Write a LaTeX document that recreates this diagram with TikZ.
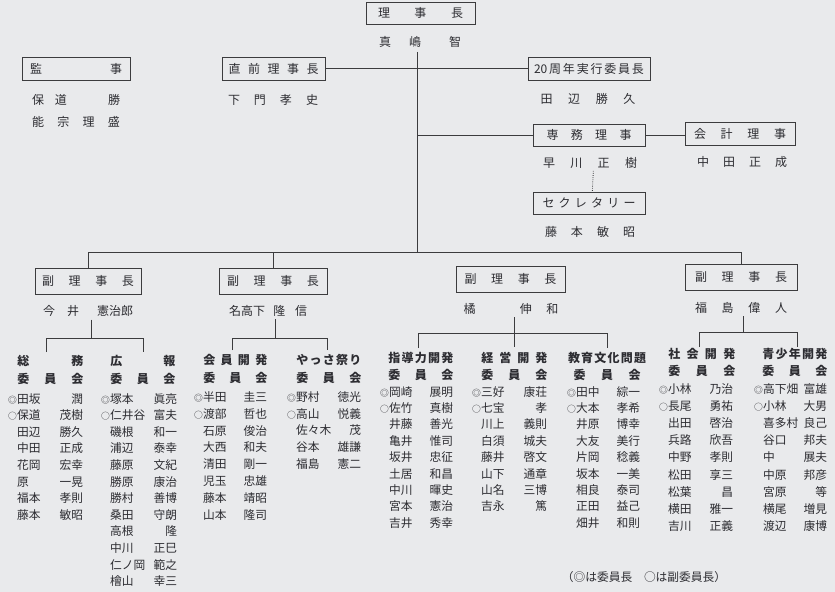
\documentclass[tikz,border=0pt]{standalone}
\usepackage{fontspec}
\newfontfamily\jp{Noto Sans CJK JP}
\newlength\nmw
\newcommand\ms[3]{\makebox[0.8em][c]{\fontsize{6.6}{6.6}\selectfont #1}\makebox[\nmw]{#2\hfill#3}}
\definecolor{bgc}{RGB}{233,234,236}
\definecolor{ink}{RGB}{45,45,50}
\definecolor{lnc}{RGB}{60,60,62}
\tikzset{
  bx/.style={draw=lnc, line width=0.7pt, inner sep=0pt, text=ink, font=\jp\fontsize{9}{10}\selectfont},
  nm/.style={inner sep=0pt, text=ink, font=\jp\fontsize{9}{10}\selectfont},
  mem/.style={anchor=north west, inner sep=0pt, align=left, text=ink},
  hd/.style={anchor=north west, inner sep=0pt, align=left, text=ink},
  nw/.code={\global\nmw=#1},
  ln/.style={draw=lnc, line width=0.6pt}
}
\begin{document}
\begin{tikzpicture}[x=0.75pt,y=-0.75pt]
\fill[bgc] (0,0) rectangle (835,592);
\useasboundingbox (0,0) rectangle (835,592);

% top boxes
\node[bx, minimum width=81.75pt, minimum height=16.5pt] (b0) at (420.5,13) {\makebox[63.75pt]{理\hfill 事\hfill 長}};
\node[nm] (n0) at (420,42) {\makebox[61.5pt]{真\hspace{1.5em}嶋\hfill 智}};

\node[bx, minimum width=81pt, minimum height=17.25pt] (bkan) at (76,68.5) {\makebox[69pt]{監\hfill 事}};
\node[nm] (nkan1) at (76,100) {\makebox[66pt]{保\hspace{0.9em}道\hfill 勝}};
\node[nm] (nkan2) at (76,122) {\makebox[66pt]{能\hfill 宗\hfill 理\hfill 盛}};

\node[bx, minimum width=77.25pt, minimum height=17.25pt] (bzen) at (273.5,68.5) {\makebox[67.5pt]{直\hfill 前\hfill 理\hfill 事\hfill 長}};
\node[nm] (nzen) at (273,100) {\makebox[67.5pt]{下\hfill 門\hfill 孝\hfill 史}};

\node[bx, minimum width=91.5pt, minimum height=17.25pt] (bann) at (589,68.5) {\makebox[82.5pt]{20\hfill 周\hfill 年\hfill 実\hfill 行\hfill 委\hfill 員\hfill 長}};
\node[nm] (nann) at (588,99) {\makebox[71pt]{田\hfill 辺\hfill 勝\hfill 久}};

\node[bx, minimum width=84pt, minimum height=16.5pt] (bsen) at (589,135) {\makebox[63.75pt]{専\hfill 務\hfill 理\hfill 事}};
\node[nm] (nsen) at (590,163) {\makebox[70.5pt]{早\hfill 川\hfill 正\hfill 樹}};

\node[bx, minimum width=82.5pt, minimum height=17.25pt] (bkai) at (740,134) {\makebox[69pt]{会\hfill 計\hfill 理\hfill 事}};
\node[nm] (nkai) at (742,162) {\makebox[67.5pt]{中\hfill 田\hfill 正\hfill 成}};

\node[bx, minimum width=84pt, minimum height=16.5pt] (bsec) at (589,203) {\makebox[69.75pt]{セ\hfill ク\hfill レ\hfill タ\hfill リ\hfill ー}};
\node[nm] (nsec) at (590,232) {\makebox[67.5pt]{藤\hfill 本\hfill 敏\hfill 昭}};

% vice chair boxes
\node[bx, minimum width=79.5pt, minimum height=19.5pt] (bv1) at (88,281) {\makebox[69pt]{副\hfill 理\hfill 事\hfill 長}};
\node[bx, minimum width=81pt, minimum height=19.5pt] (bv2) at (273,281) {\makebox[69pt]{副\hfill 理\hfill 事\hfill 長}};
\node[bx, minimum width=81.75pt, minimum height=19.5pt] (bv3) at (510.5,279) {\makebox[69pt]{副\hfill 理\hfill 事\hfill 長}};
\node[bx, minimum width=84pt, minimum height=19.5pt] (bv4) at (741,277) {\makebox[69pt]{副\hfill 理\hfill 事\hfill 長}};

\node[nm] (nv1) at (88,311) {\makebox[67.5pt]{今\hspace{1em}井\hfill 憲治郎}};
\node[nm] (nv2) at (268,311) {\makebox[58.5pt]{名高下\hfill 隆\hspace{0.8em}信}};
\node[nm] (nv3) at (511,309) {\makebox[71pt]{橘\hfill 伸\hspace{1.2em}和}};
\node[nm] (nv4) at (741,308) {\makebox[69pt]{福\hfill 島\hfill 偉\hfill 人}};

% connectors top
\coordinate (top) at (417,52);
\coordinate (hub) at (417,252);
\coordinate (j1) at (417,135);
\draw[ln] (top) -- (hub);
\draw[ln] (bzen.east) -- (bann.west);
\draw[ln] (j1) -- (j1 -| bsen.west);
\draw[ln] (bsen.east) -- (bsen.east -| bkai.west);
\draw[lnc, line width=0.6pt, densely dotted] ([xshift=2.5pt,yshift=-1.5pt]nsen.south) -- ([xshift=2.5pt]bsec.north);
\draw[ln] (bv1.north) -- (bv1.north |- hub) -- (bv4.north |- hub) -- (bv4.north);
\draw[ln] (bv2.north) -- (bv2.north |- hub);

% brackets
\coordinate (g1m) at (91,338); \coordinate (g1a) at (46,352); \coordinate (g1b) at (143,352);
\draw[ln] ([yshift=-2pt]nv1.south -| g1m) -- (g1m);
\draw[ln] (g1a) -- (g1a |- g1m) -- (g1b |- g1m) -- (g1b);
\coordinate (g2m) at (275,338); \coordinate (g2a) at (232,350); \coordinate (g2b) at (327,350);
\draw[ln] ([yshift=-2pt]nv2.south -| g2m) -- (g2m);
\draw[ln] (g2a) -- (g2a |- g2m) -- (g2b |- g2m) -- (g2b);
\coordinate (g3m) at (514,333); \coordinate (g3a) at (418,348); \coordinate (g3b) at (607,348); \coordinate (g3c) at (514,347);
\draw[ln] ([yshift=-2pt]nv3.south -| g3c) -- (g3c);
\draw[ln] (g3a) -- (g3a |- g3m) -- (g3b |- g3m) -- (g3b);
\coordinate (g4m) at (743,332); \coordinate (g4a) at (699,347); \coordinate (g4b) at (797,347);
\draw[ln] ([yshift=-2pt]nv4.south -| g4m) -- (g4m);
\draw[ln] (g4a) -- (g4a |- g4m) -- (g4b |- g4m) -- (g4b);

% committee headers
\tikzset{hfont/.style={font=\jp\bfseries\fontsize{9}{13.5}\selectfont}}
\node[hd, hfont] (h1) at (17,355) {\makebox[49.5pt]{総\hfill 務}\\\makebox[49.5pt]{委\hfill 員\hfill 会}};
\node[hd, hfont] (h2) at (110,355) {\makebox[48.75pt]{広\hfill 報}\\\makebox[48.75pt]{委\hfill 員\hfill 会}};
\node[hd, hfont] (h3) at (203,354) {\makebox[48pt]{会\hfill 員\hfill 開\hfill 発}\\\makebox[48pt]{委\hfill 員\hfill 会}};
\node[hd, hfont] (h4) at (296,354) {\makebox[48.75pt]{や\hfill っ\hfill さ\hfill 祭\hfill り}\\\makebox[48.75pt]{委\hfill 員\hfill 会}};
\node[hd, font=\jp\bfseries\fontsize{9}{12.75}\selectfont] (h5) at (388,352) {\makebox[48.75pt]{指\hfill 導\hfill 力\hfill 開\hfill 発}\\\makebox[48.75pt]{委\hfill 員\hfill 会}};
\node[hd, font=\jp\bfseries\fontsize{9}{12.75}\selectfont] (h6) at (481,352) {\makebox[49.5pt]{経\hfill 営\hfill 開\hfill 発}\\\makebox[49.5pt]{委\hfill 員\hfill 会}};
\node[anchor=north, inner sep=0pt, align=center, text=ink, font=\jp\bfseries\fontsize{9}{12.75}\selectfont] (h7) at (607,352) {\makebox[58.5pt]{教\hfill 育\hfill 文\hfill 化\hfill 問\hfill 題}\\\makebox[50.25pt]{委\hfill 員\hfill 会}};
\node[hd, font=\jp\bfseries\fontsize{9}{12.75}\selectfont] (h8) at (668,348) {\makebox[50.25pt]{社\hfill 会\hfill 開\hfill 発}\\\makebox[50.25pt]{委\hfill 員\hfill 会}};
\node[hd, font=\jp\bfseries\fontsize{9}{12.75}\selectfont] (h9) at (762,348) {\makebox[48.75pt]{青\hfill 少\hfill 年\hfill 開\hfill 発}\\\makebox[48.75pt]{委\hfill 員\hfill 会}};

% members
\node[mem, nw=49.5pt, font=\jp\fontsize{8.8}{12.45}\selectfont] (m1) at (7.5,393) {%
\ms{◎}{田坂}{潤}\\\ms{○}{保道}{茂樹}\\\ms{}{田辺}{勝久}\\\ms{}{中田}{正成}\\\ms{}{花岡}{宏幸}\\\ms{}{原}{一晃}\\\ms{}{福本}{孝則}\\\ms{}{藤本}{敏昭}};
\node[mem, nw=50.25pt, font=\jp\fontsize{8.8}{12.45}\selectfont] (m2) at (100.5,393) {%
\ms{◎}{塚本}{眞亮}\\\ms{○}{仁井谷}{富夫}\\\ms{}{磯根}{和一}\\\ms{}{浦辺}{泰幸}\\\ms{}{藤原}{文紀}\\\ms{}{勝原}{康治}\\\ms{}{勝村}{善博}\\\ms{}{桑田}{守朗}\\\ms{}{高根}{隆}\\\ms{}{中川}{正巳}\\\ms{}{仁ノ岡}{範之}\\\ms{}{檜山}{幸三}};
\node[mem, nw=48pt, font=\jp\fontsize{8.8}{12.7}\selectfont] (m3) at (193.5,391) {%
\ms{◎}{半田}{圭三}\\\ms{○}{渡部}{哲也}\\\ms{}{石原}{俊治}\\\ms{}{大西}{和夫}\\\ms{}{清田}{剛一}\\\ms{}{児玉}{忠雄}\\\ms{}{藤本}{靖昭}\\\ms{}{山本}{隆司}};
\node[mem, nw=48.75pt, font=\jp\fontsize{8.8}{12.7}\selectfont] (m4) at (286.5,391) {%
\ms{◎}{野村}{徳光}\\\ms{○}{高山}{悦義}\\\ms{}{佐々木}{茂}\\\ms{}{谷本}{雄謙}\\\ms{}{福島}{憲二}};
\node[mem, nw=48pt, font=\jp\fontsize{8.8}{12.3}\selectfont] (m5) at (379.5,386) {%
\ms{◎}{岡崎}{展明}\\\ms{○}{佐竹}{真樹}\\\ms{}{井藤}{善光}\\\ms{}{亀井}{惟司}\\\ms{}{坂井}{忠征}\\\ms{}{土居}{和昌}\\\ms{}{中川}{暉史}\\\ms{}{宮本}{憲治}\\\ms{}{吉井}{秀幸}};
\node[mem, nw=49.5pt, font=\jp\fontsize{8.8}{12.3}\selectfont] (m6) at (471.5,386) {%
\ms{◎}{三好}{康荘}\\\ms{○}{七宝}{孝}\\\ms{}{川上}{義則}\\\ms{}{白須}{城夫}\\\ms{}{藤井}{啓文}\\\ms{}{山下}{通章}\\\ms{}{山名}{三博}\\\ms{}{吉永}{篤}};
\node[mem, nw=48pt, font=\jp\fontsize{8.8}{12.3}\selectfont] (m7) at (566.5,386) {%
\ms{◎}{田中}{綜一}\\\ms{○}{大本}{孝希}\\\ms{}{井原}{博幸}\\\ms{}{大友}{美行}\\\ms{}{片岡}{稔義}\\\ms{}{坂本}{一美}\\\ms{}{相良}{泰司}\\\ms{}{正田}{益己}\\\ms{}{畑井}{和則}};
\node[mem, nw=48.75pt, font=\jp\fontsize{8.8}{12.9}\selectfont] (m8) at (658.5,383) {%
\ms{◎}{小林}{乃治}\\\ms{○}{長尾}{勇祐}\\\ms{}{出田}{啓治}\\\ms{}{兵路}{欣吾}\\\ms{}{中野}{孝則}\\\ms{}{松田}{享三}\\\ms{}{松葉}{昌}\\\ms{}{横田}{雅一}\\\ms{}{吉川}{正義}};
\node[mem, nw=48pt, font=\jp\fontsize{8.8}{12.9}\selectfont] (m9) at (753.5,383) {%
\ms{◎}{高下畑}{富雄}\\\ms{○}{小林}{大男}\\\ms{}{喜多村}{良己}\\\ms{}{谷口}{邦夫}\\\ms{}{中}{展夫}\\\ms{}{中原}{邦彦}\\\ms{}{宮原}{等}\\\ms{}{横尾}{増見}\\\ms{}{渡辺}{康博}};

% footnote
\node[nm, font=\jp\fontsize{8.8}{10}\selectfont] (fn) at (644,577) {（◎は委員長\hspace{1em}○は副委員長）};
\end{tikzpicture}
\end{document}
